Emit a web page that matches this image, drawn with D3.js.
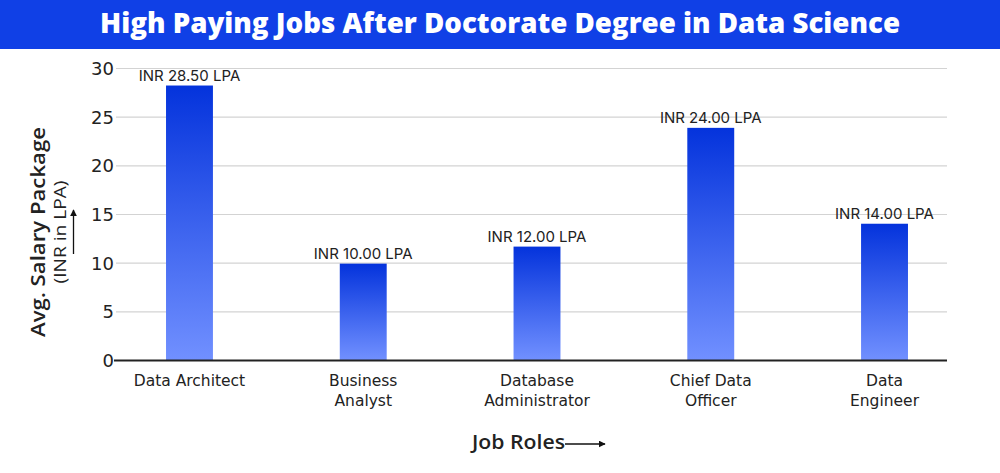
<!DOCTYPE html>
<html>
<head>
<meta charset="utf-8">
<script src="https://cdn.jsdelivr.net/npm/d3@7"></script>
<style>
  html, body { margin: 0; padding: 0; background: #fff; }
  svg { display: block; }
</style>
</head>
<body>
<svg id="chart" width="1000" height="473"></svg>
<script>
const title = "High Paying Jobs After Doctorate Degree in Data Science";
const categories = [["Data Architect"], ["Business", "Analyst"], ["Database", "Administrator"], ["Chief Data", "Officer"], ["Data", "Engineer"]];
const barValues = [28.2, 9.9, 11.65, 23.85, 14.0];
const labelValues = [28.5, 10, 12, 24, 14];
const yTicks = [0, 5, 10, 15, 20, 25, 30];
const yTitle = "Avg. Salary Package";
const ySubTitle = "(INR in LPA)";
const xTitle = "Job Roles";

const svg = d3.select("#chart");
const W = 1000, H = 473;
const sans = "'Open Sans', 'Noto Sans', sans-serif";
const wide = "'DejaVu Sans', 'Open Sans', sans-serif";
const inter = "Inter, Roboto, sans-serif";

// defs
const defs = svg.append("defs");
const grad = defs.append("linearGradient").attr("id", "barGrad")
  .attr("x1", 0).attr("y1", 0).attr("x2", 0).attr("y2", 1);
grad.append("stop").attr("offset", "0%").attr("stop-color", "#0433DC");
grad.append("stop").attr("offset", "100%").attr("stop-color", "#7190FF");
const mk = defs.append("marker").attr("id", "arrow").attr("viewBox", "0 0 10 10")
  .attr("refX", 9).attr("refY", 5).attr("markerWidth", 7).attr("markerHeight", 7)
  .attr("markerUnits", "userSpaceOnUse").attr("orient", "auto");
mk.append("path").attr("d", "M0,0 L10,5 L0,10 Z").attr("fill", "#111");

// title bar
svg.append("rect").attr("x", 0).attr("y", 0).attr("width", W).attr("height", 49).attr("fill", "#1040E6");
svg.append("text").attr("x", 500).attr("y", 33).attr("text-anchor", "middle")
  .attr("font-family", sans).attr("font-weight", 800).attr("font-size", 28)
  .attr("fill", "#fff").attr("textLength", 800).attr("lengthAdjust", "spacingAndGlyphs")
  .text(title);

// scales
const x = d3.scaleBand().domain(d3.range(categories.length))
  .range([102.6, 971.4]).paddingInner(0.73).paddingOuter(0.365);
const y = d3.scaleLinear().domain([0, 30]).range([360, 68]);
const plotLeft = 116, plotRight = 947;

// gridlines
const grid = svg.append("g").attr("transform", `translate(${plotLeft},0)`)
  .call(d3.axisLeft(y).tickValues(yTicks.filter(d => d > 0)).tickSize(-(plotRight - plotLeft)).tickFormat(""));
grid.select(".domain").remove();
grid.selectAll("line").attr("stroke", "#d3d3d3").attr("stroke-width", 1.2);

// y tick labels
const yAx = svg.append("g").attr("transform", `translate(114,0)`)
  .call(d3.axisLeft(y).tickValues(yTicks).tickSize(0).tickPadding(0));
yAx.select(".domain").remove();
yAx.selectAll("text").attr("font-family", wide).attr("font-size", 18).attr("fill", "#222")
  .attr("dy", "0.36em");

// bars
svg.append("g").selectAll("rect").data(barValues).join("rect")
  .attr("x", (d, i) => x(i)).attr("width", x.bandwidth())
  .attr("y", d => y(d)).attr("height", d => y(0) - y(d))
  .attr("fill", "url(#barGrad)");

// baseline
svg.append("line").attr("x1", plotLeft - 2).attr("x2", plotRight).attr("y1", y(0) + 0.5).attr("y2", y(0) + 0.5)
  .attr("stroke", "#222").attr("stroke-width", 2.2);

// value labels
svg.append("g").selectAll("text").data(labelValues).join("text")
  .attr("x", (d, i) => x(i) + x.bandwidth() / 2)
  .attr("y", (d, i) => y(barValues[i]) - 5)
  .attr("text-anchor", "middle").attr("font-family", inter).attr("font-size", 15)
  .attr("fill", "#222")
  .text(d => `INR ${d3.format(".2f")(d)} LPA`);

// category labels
const cat = svg.append("g").selectAll("text").data(categories).join("text")
  .attr("text-anchor", "middle").attr("font-family", wide).attr("font-size", 15.5)
  .attr("fill", "#222");
cat.each(function(lines, i) {
  const t = d3.select(this);
  lines.forEach((l, j) => {
    t.append("tspan").attr("x", x(i) + x.bandwidth() / 2).attr("y", 386 + j * 19.5).text(l);
  });
});

// x axis title
svg.append("text").attr("x", 472).attr("y", 449).attr("text-anchor", "start")
  .attr("font-family", sans).attr("font-weight", 600).attr("font-size", 19).attr("fill", "#222")
  .attr("textLength", 93).attr("lengthAdjust", "spacingAndGlyphs")
  .text(xTitle);
svg.append("line").attr("x1", 565).attr("x2", 605).attr("y1", 444).attr("y2", 444)
  .attr("stroke", "#111").attr("stroke-width", 1.3).attr("marker-end", "url(#arrow)");

// y axis title
svg.append("text").attr("transform", "translate(45,232) rotate(-90)").attr("text-anchor", "middle")
  .attr("font-family", sans).attr("font-weight", 600).attr("font-size", 20).attr("fill", "#222")
  .attr("textLength", 210).attr("lengthAdjust", "spacingAndGlyphs")
  .text(yTitle);
svg.append("text").attr("transform", "translate(66,232) rotate(-90)").attr("text-anchor", "middle")
  .attr("font-family", sans).attr("font-size", 16).attr("fill", "#222")
  .attr("textLength", 103).attr("lengthAdjust", "spacingAndGlyphs")
  .text(ySubTitle);
svg.append("line").attr("x1", 73.5).attr("x2", 73.5).attr("y1", 254).attr("y2", 210)
  .attr("stroke", "#111").attr("stroke-width", 1.3).attr("marker-end", "url(#arrow)");
</script>
</body>
</html>
